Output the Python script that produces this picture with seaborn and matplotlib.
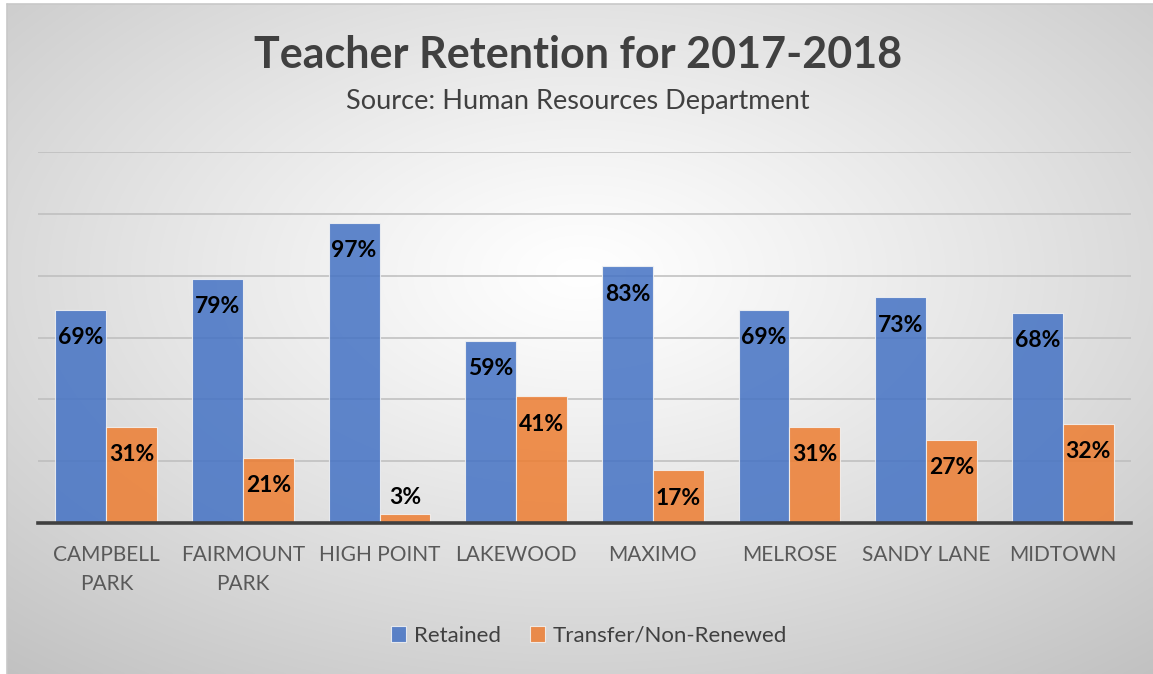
import numpy as np
import pandas as pd
import matplotlib
matplotlib.use("Agg")
import matplotlib.pyplot as plt
import seaborn as sns

# ---- data ----
schools = ["CAMPBELL PARK", "FAIRMOUNT PARK", "HIGH POINT", "LAKEWOOD",
           "MAXIMO", "MELROSE", "SANDY LANE", "MIDTOWN"]
tick_labels = ["CAMPBELL\nPARK", "FAIRMOUNT\nPARK", "HIGH POINT", "LAKEWOOD",
               "MAXIMO", "MELROSE", "SANDY LANE", "MIDTOWN"]
retained = [69, 79, 97, 59, 83, 69, 73, 68]
transfer = [31, 21, 3, 41, 17, 31, 27, 32]
series = ["Retained", "Transfer/Non-Renewed"]

df = pd.DataFrame({
    "School": schools * 2,
    "Value": retained + transfer,
    "Series": [series[0]] * len(schools) + [series[1]] * len(schools),
})

sns.set_theme(style="white")
plt.rcParams["font.family"] = ["Lato", "DejaVu Sans"]

W, H = 1153, 674
fig = plt.figure(figsize=(W / 100, H / 100), dpi=100)
fig.patch.set_facecolor("white")

# ---- radial gradient background ----
bg = fig.add_axes([7 / W, 0, 1 - 7 / W, 1 - 4 / H], zorder=-10)
ny, nx = 335, 573
yy, xx = np.mgrid[0:ny, 0:nx]
cx, cy = nx * 0.50, ny * 0.40
r = np.sqrt(((xx - cx) / (nx / 2)) ** 2 + ((yy - cy) / (ny / 2)) ** 2)
val = np.clip(1.0 - 0.145 * r ** 1.15, 0, 1)
bg.imshow(np.dstack([val, val, val]), aspect="auto", extent=[0, 1, 0, 1],
          origin="upper", interpolation="bilinear")
bg.set_axis_off()
fig.add_artist(plt.Line2D([7 / W, 1], [1 - 4 / H, 1 - 4 / H], color="#c8c8c8",
                          lw=1.2, transform=fig.transFigure))
fig.add_artist(plt.Line2D([7 / W, 7 / W], [0, 1 - 4 / H], color="#c8c8c8",
                          lw=1.2, transform=fig.transFigure))

# ---- main axes ----
ax = fig.add_axes([38 / W, 1 - 523 / H, (1131 - 38) / W, (523 - 152) / H])
ax.patch.set_alpha(0)
palette = {series[0]: "#4472C4", series[1]: "#ED7D31"}
sns.barplot(data=df, x="School", y="Value", hue="Series", palette=palette,
            order=schools, hue_order=series, width=0.745, saturation=1,
            alpha=0.85, edgecolor="#f4f4f4", linewidth=0.8, ax=ax, legend=True)

ax.set_ylim(0, 120)
ax.set_yticks(np.arange(0, 121, 20))
ax.yaxis.grid(True, color="#bdbdbd", lw=1.1)
ax.set_axisbelow(True)
ax.set_yticklabels([])
ax.tick_params(axis="y", length=0)
ax.set_xlim(-0.5, len(schools) - 0.5)
ax.set_xticks(range(len(schools)))
ax.set_xticklabels(tick_labels, fontsize=15, color="#595959", linespacing=1.55)
ax.tick_params(axis="x", length=0, pad=16)
ax.set_xlabel("")
ax.set_ylabel("")
for s in ["top", "right", "left"]:
    ax.spines[s].set_visible(False)
ax.spines["bottom"].set_color("#404040")
ax.spines["bottom"].set_linewidth(2.6)

# data labels
for cont in ax.containers:
    for patch in cont.patches:
        h = patch.get_height()
        xc = patch.get_x() + patch.get_width() / 2
        off = -20 if h > 10 else 12
        ax.annotate(f"{h:.0f}%", xy=(xc, h), xytext=(0, off),
                    textcoords="offset points", ha="center", va="center",
                    fontsize=16.5, fontweight="bold", color="black")

handles, labels = ax.get_legend_handles_labels()
ax.get_legend().remove()
leg = fig.legend(handles, labels, loc="center", bbox_to_anchor=(589 / W, 1 - 636 / H),
                 ncol=2, frameon=False, fontsize=16, handlelength=0.7,
                 handleheight=0.7, handletextpad=0.35, columnspacing=1.3)
for t in leg.get_texts():
    t.set_color("#404040")

fig.text(578 / W, 1 - 55 / H, "Teacher Retention for 2017-2018", ha="center",
         va="center", fontsize=31, fontweight="bold", color="#404040")
fig.text(578 / W, 1 - 101 / H, "Source: Human Resources Department", ha="center",
         va="center", fontsize=19.5, color="#404040")

fig.savefig("out.png", dpi=100)
